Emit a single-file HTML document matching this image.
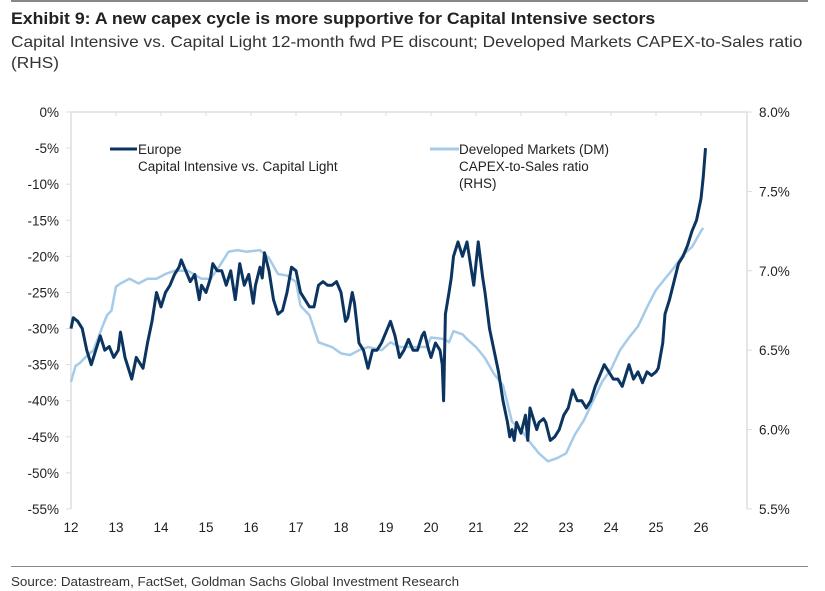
<!DOCTYPE html>
<html><head><meta charset="utf-8"><style>
body{margin:0;background:#fff;width:825px;height:591px;overflow:hidden;font-family:"Liberation Sans",sans-serif;position:relative}
.t{position:absolute;white-space:nowrap;transform-origin:0 0}
</style></head><body>
<div style="position:absolute;left:11px;top:0;width:797px;height:2px;background:#888"></div>
<div class="t" style="left:11px;top:9px;font-size:17px;font-weight:bold;color:#222;transform:scaleX(1.04)">Exhibit 9: A new capex cycle is more supportive for Capital Intensive sectors</div>
<div class="t" style="left:11px;top:32px;font-size:16px;color:#333;line-height:21px;transform:scaleX(1.08)">Capital Intensive vs. Capital Light 12-month fwd PE discount; Developed Markets CAPEX-to-Sales ratio<br>(RHS)</div>
<svg id="c" width="825" height="591" style="position:absolute;left:0;top:0"></svg>
<div style="position:absolute;left:11px;top:566px;width:797px;height:1px;background:#888"></div>
<div class="t" style="left:11px;top:574px;font-size:13px;color:#333;transform:scaleX(1.03)">Source: Datastream, FactSet, Goldman Sachs Global Investment Research</div>
<script>
const xYears=[12,13,14,15,16,17,18,19,20,21,22,23,24,25,26];
const leftTicks=[0,-5,-10,-15,-20,-25,-30,-35,-40,-45,-50,-55];
const rightTicks=[8.0,7.5,7.0,6.5,6.0,5.5];
const euT=[12.0,12.05,12.15,12.25,12.35,12.45,12.55,12.65,12.75,12.85,12.95,13.05,13.1,13.2,13.3,13.35,13.45,13.55,13.6,13.7,13.8,13.9,14.0,14.1,14.2,14.3,14.4,14.45,14.55,14.65,14.75,14.85,14.9,15.0,15.1,15.15,15.25,15.35,15.45,15.55,15.65,15.75,15.85,15.95,16.05,16.1,16.2,16.25,16.3,16.4,16.5,16.6,16.7,16.8,16.9,17.0,17.1,17.2,17.3,17.4,17.5,17.6,17.7,17.8,17.9,18.0,18.1,18.15,18.25,18.3,18.4,18.5,18.6,18.7,18.8,18.9,19.0,19.1,19.2,19.3,19.4,19.5,19.6,19.7,19.8,19.85,19.95,20.0,20.1,20.2,20.25,20.28,20.32,20.4,20.45,20.5,20.6,20.7,20.8,20.9,20.95,21.0,21.05,21.15,21.2,21.3,21.4,21.5,21.6,21.7,21.75,21.8,21.85,21.9,22.0,22.1,22.15,22.2,22.25,22.35,22.4,22.5,22.55,22.65,22.75,22.85,22.95,23.05,23.15,23.25,23.35,23.45,23.55,23.65,23.75,23.85,23.95,24.05,24.15,24.25,24.35,24.4,24.5,24.6,24.7,24.8,24.9,25.0,25.05,25.15,25.2,25.3,25.4,25.5,25.6,25.7,25.8,25.9,26.0,26.05,26.1];
const euV=[-30,-28.5,-29,-30,-33,-35,-33,-31,-33,-32.5,-34,-33,-30.5,-34,-36,-37,-34,-35,-35.5,-32,-29,-25,-27,-25,-24,-22.5,-21.5,-20.5,-22,-23.5,-22.5,-26,-24,-25,-23,-21,-22,-22,-24,-22,-26,-21,-24,-22.5,-26.5,-24,-21.5,-23,-19.5,-22,-26,-28,-27.5,-25,-21.5,-22,-25,-26,-27,-27,-24,-23.5,-24,-24,-23.5,-25,-29,-28.5,-25,-26.5,-32,-33,-35.5,-33,-33,-32,-30.5,-29,-31,-34,-33,-31.5,-33,-33,-31,-30.5,-33,-34,-32,-33,-35,-40,-28,-25,-23,-20,-18,-20,-18,-22,-24,-21,-18,-23,-25,-30,-33,-36,-40,-43,-45,-44,-45.5,-43,-44.5,-42,-45.5,-41,-42,-44,-43,-42.5,-43,-45.5,-45,-44,-42,-41,-38.5,-40,-40,-41,-40,-38,-36.5,-35,-36,-37,-37,-38,-36,-35,-37,-36,-37.5,-36,-36.5,-36,-35.5,-32,-28,-26,-23.5,-21,-20,-18.5,-16.5,-15,-12,-9,-5];
const dmT=[12.0,12.1,12.2,12.3,12.5,12.7,12.8,12.9,13.0,13.1,13.3,13.5,13.7,13.9,14.1,14.3,14.6,14.9,15.1,15.3,15.5,15.7,15.9,16.2,16.4,16.6,16.8,17.0,17.1,17.3,17.5,17.8,18.0,18.2,18.4,18.6,18.9,19.1,19.3,19.6,19.9,20.0,20.3,20.4,20.5,20.7,20.8,21.0,21.2,21.4,21.6,21.8,22.0,22.2,22.4,22.6,22.8,23.0,23.2,23.4,23.6,23.8,24.0,24.2,24.4,24.6,24.8,25.0,25.2,25.4,25.6,25.8,26.0,26.05];
const dmV=[6.3,6.4,6.42,6.45,6.5,6.65,6.72,6.75,6.9,6.92,6.95,6.92,6.95,6.95,6.98,7.0,7.0,6.95,6.95,7.03,7.12,7.13,7.12,7.13,7.08,6.98,6.97,6.93,6.78,6.72,6.55,6.52,6.48,6.47,6.5,6.52,6.5,6.55,6.52,6.52,6.52,6.58,6.57,6.55,6.62,6.6,6.57,6.52,6.45,6.35,6.28,6.05,6.0,5.92,5.85,5.8,5.82,5.85,5.97,6.06,6.18,6.3,6.38,6.5,6.58,6.65,6.77,6.88,6.95,7.02,7.1,7.15,7.25,7.27];
const L=71,R=747,T=112,B=509;
const X=t=>L+(t-12)*45;
const YL=v=>T+(0-v)/55*(B-T);
const YR=v=>T+(8-v)/2.5*(B-T);
const s=document.getElementById('c'),NS='http://www.w3.org/2000/svg';
function el(tag,a,txt){const e=document.createElementNS(NS,tag);for(const k in a)e.setAttribute(k,a[k]);if(txt!=null)e.textContent=txt;s.appendChild(e);return e;}
let e;
e=el('line',{x1:L,y1:T,x2:R,y2:T,stroke:'#ddd','stroke-width':1.5});


e=el('line',{x1:L,y1:T,x2:L,y2:B,stroke:'#ddd','stroke-width':1.5});


e=el('line',{x1:R,y1:T,x2:R,y2:B,stroke:'#ddd','stroke-width':1.5});


leftTicks.forEach(v=>{
 e=el('line',{x1:L-5,y1:YL(v),x2:L,y2:YL(v),stroke:'#ddd'});
 
 
 e=el('text',{x:L-12,y:YL(v)+5,'text-anchor':'end','font-size':13.5,fill:'#222'},v+'%');
 
 
});
rightTicks.forEach(v=>{
 e=el('line',{x1:R,y1:YR(v),x2:R+5,y2:YR(v),stroke:'#ddd'});
 
 
 e=el('text',{x:R+12,y:YR(v)+5,'font-size':13.5,fill:'#222'},v.toFixed(1)+'%');
 
 
});
xYears.forEach(y=>{
 e=el('line',{x1:X(y),y1:T,x2:X(y),y2:T+4,stroke:'#ddd'});
 
 
 e=el('text',{x:X(y),y:B+23,'text-anchor':'middle','font-size':13.5,fill:'#222'},String(y));
 
 
});
e=el('polyline',{points:dmT.map((t,i)=>X(t)+','+YR(dmV[i])).join(' '),fill:'none',stroke:'#a6cbe8','stroke-width':2.5,'stroke-linejoin':'round'});


e=el('polyline',{points:euT.map((t,i)=>X(t)+','+YL(euV[i])).join(' '),fill:'none',stroke:'#0b3560','stroke-width':3,'stroke-linejoin':'round'});


e=el('line',{x1:110,y1:149,x2:137,y2:149,stroke:'#0b3560','stroke-width':3});


e=el('text',{x:138,y:154,'font-size':13.5,fill:'#222'},'Europe');


e=el('text',{x:138,y:171,'font-size':13.5,fill:'#222'},'Capital Intensive vs. Capital Light');


e=el('line',{x1:430,y1:149,x2:459,y2:149,stroke:'#a6cbe8','stroke-width':3});


['Developed Markets (DM)','CAPEX-to-Sales ratio','(RHS)'].forEach((s2,i)=>{
 e=el('text',{x:459,y:154+i*17,'font-size':13.5,fill:'#222'},s2);
 
 
});
</script>
</body></html>
